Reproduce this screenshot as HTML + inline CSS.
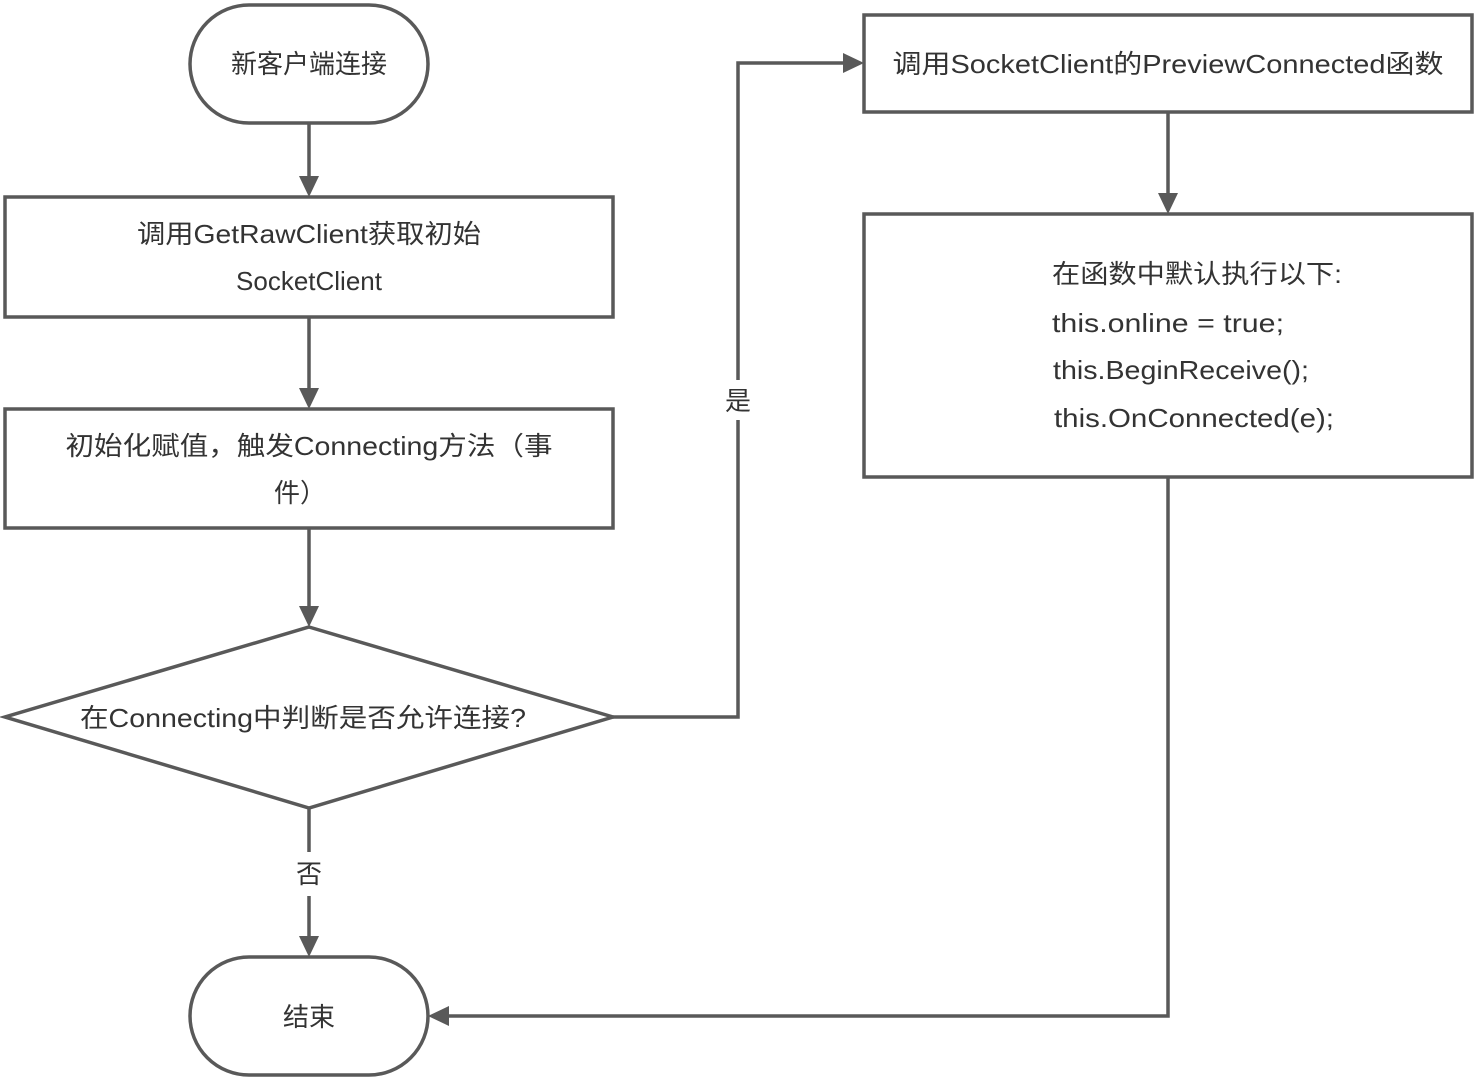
<!DOCTYPE html>
<html><head><meta charset="utf-8"><style>html,body{margin:0;padding:0;background:#fff}svg{display:block}text{font-family:"Liberation Sans","Noto Sans CJK SC",sans-serif;font-size:26px;fill:#333}</style></head>
<body>
<svg width="1477" height="1080" viewBox="0 0 1477 1080" xmlns="http://www.w3.org/2000/svg">
<defs><marker id="a" markerWidth="8" markerHeight="8" refX="6" refY="4" orient="auto" markerUnits="userSpaceOnUse" viewBox="0 0 8 8"></marker></defs>
<g fill="none" stroke="#595959" stroke-width="3.5">
<rect x="190" y="5" width="238" height="118" rx="59"/>
<rect x="5" y="197" width="608" height="120"/>
<rect x="5" y="409" width="608" height="119"/>
<polygon points="309,627 613,717 309,808 5,717"/>
<rect x="190" y="957" width="238" height="118" rx="59"/>
<rect x="864" y="15" width="608" height="97"/>
<rect x="864" y="214" width="608" height="263"/>
<line x1="309" y1="123" x2="309" y2="178"/>
<line x1="309" y1="317" x2="309" y2="390"/>
<line x1="309" y1="528" x2="309" y2="608"/>
<polyline points="613,717 738,717 738,63 845,63"/>
<line x1="309" y1="808" x2="309" y2="938"/>
<line x1="1168" y1="112" x2="1168" y2="195"/>
<polyline points="1168,477 1168,1016 447,1016"/>
</g>
<g fill="#595959">
<polygon points="299,176 319,176 309,197"/>
<polygon points="299,388 319,388 309,409"/>
<polygon points="299,606 319,606 309,627"/>
<polygon points="299,936 319,936 309,957"/>
<polygon points="1158,193 1178,193 1168,214"/>
<polygon points="843,53 843,73 864,63"/>
<polygon points="449,1006 449,1026 428,1016"/>
</g>
<rect x="720" y="380" width="36" height="40" fill="#fff"/>
<rect x="290" y="852" width="38" height="44" fill="#fff"/>
<g text-anchor="middle">
<text x="309" y="73">新客户端连接</text>
<text x="309" y="243" textLength="344" lengthAdjust="spacingAndGlyphs">调用GetRawClient获取初始</text>
<text x="309" y="290">SocketClient</text>
<text x="309" y="455" textLength="487" lengthAdjust="spacingAndGlyphs">初始化赋值，触发Connecting方法（事</text>
<text x="300" y="502">件）</text>
<text x="303" y="727" textLength="446" lengthAdjust="spacingAndGlyphs">在Connecting中判断是否允许连接?</text>
<text x="738" y="410">是</text>
<text x="309" y="883">否</text>
<text x="309" y="1026">结束</text>
<text x="1168" y="73" textLength="551" lengthAdjust="spacingAndGlyphs">调用SocketClient的PreviewConnected函数</text>
</g>
<g>
<text x="1052" y="283" textLength="290" lengthAdjust="spacingAndGlyphs">在函数中默认执行以下:</text>
<text x="1052" y="332" textLength="232" lengthAdjust="spacingAndGlyphs">this.online = true;</text>
<text x="1053" y="379" textLength="256" lengthAdjust="spacingAndGlyphs">this.BeginReceive();</text>
<text x="1054" y="427" textLength="280" lengthAdjust="spacingAndGlyphs">this.OnConnected(e);</text>
</g>
</svg>
</body></html>
